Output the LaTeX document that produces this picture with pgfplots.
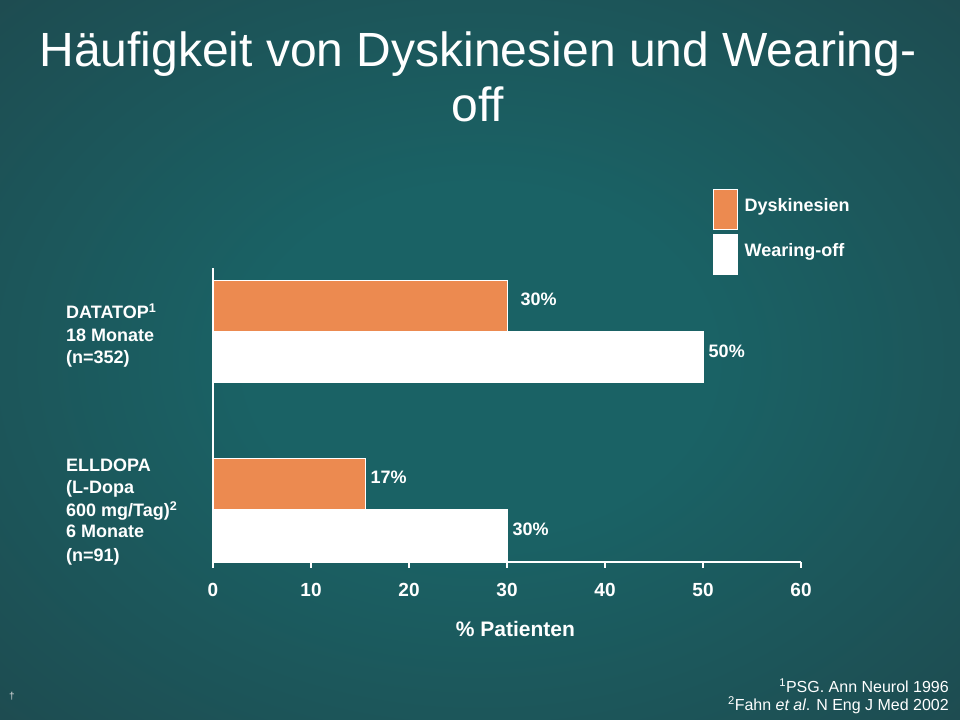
\documentclass[border=0pt]{standalone}
\usepackage{pgfplots}
\pgfplotsset{compat=1.18}
\usepackage{fontspec}
\setmainfont{Liberation Sans}
\definecolor{dysk}{RGB}{236,138,80}
\definecolor{bgc}{RGB}{26,98,101}
\definecolor{bgm}{RGB}{32,62,68}
\definecolor{bgo}{RGB}{38,50,56}
\pgfdeclareradialshading{slidebg}{\pgfpoint{0bp}{0bp}}{color(0bp)=(bgc); color(12bp)=(bgc); color(50bp)=(bgm); color(71bp)=(bgo)}
\newcommand{\lbl}{\fontsize{18bp}{22.5bp}\selectfont\bfseries}
\newcommand{\tlbl}{\fontsize{19bp}{22bp}\selectfont\bfseries}
\begin{document}
\begin{tikzpicture}[x=1bp,y=1bp]
\useasboundingbox (0,0) rectangle (960,720);
\shade[shading=slidebg] (0,0) rectangle (960,720);
% title
\node[text=white, font=\fontsize{48bp}{55bp}\selectfont, anchor=base, inner sep=0] at (478,653) {Häufigkeit von Dyskinesien und Wearing-};
\node[text=white, font=\fontsize{48bp}{55bp}\selectfont, anchor=base, inner sep=0] at (478,598) {off};
% category labels
\begin{scope}[every node/.style={text=white, font=\lbl, anchor=base west, inner sep=0}]
\node at (66,401) {DATATOP\textsuperscript{1}};
\node at (66,378) {18 Monate};
\node at (66,356) {(n=352)};
\node at (66,248) {ELLDOPA};
\node at (66,226.5) {(L-Dopa};
\node at (66,203) {600 mg/Tag)\textsuperscript{2}};
\node at (66,182) {6 Monate};
\node at (66,158) {(n=91)};
\node[anchor=base, font=\fontsize{21bp}{24bp}\selectfont\bfseries] at (515.5,83) {\% Patienten};
\end{scope}
% footnotes
\node[text=white, font=\fontsize{16bp}{17bp}\selectfont, anchor=base east, inner sep=0] at (949,27) {\textsuperscript{1}PSG. Ann Neurol 1996};
\node[text=white, font=\fontsize{16bp}{17bp}\selectfont, anchor=base east, inner sep=0] at (949,9.5) {\textsuperscript{2}Fahn \textit{et al}. N Eng J Med 2002};
\node[text=white!75!gray, font=\fontsize{10bp}{12bp}\selectfont, anchor=base, inner sep=0] at (12,20) {†};
\begin{axis}[
  at={(213bp,158bp)}, anchor=south west,
  scale only axis, width=588bp, height=294bp,
  xmin=0, xmax=60, ymin=-0.295, ymax=1.357,
  axis x line*=bottom, axis y line*=left,
  axis line style={white, line width=2.5bp, -},
  xtick={0,10,20,30,40,50,60}, ytick=\empty,
  xtick align=outside, major tick length=6bp,
  tick style={white, line width=2bp},
  xticklabel style={text=white, font=\tlbl, yshift=-12bp},
  /pgf/number format/assume math mode=true,
  clip=false,
  legend style={draw=none, fill=none, text=white, font=\lbl,
    at={(0.8503,1.2687)}, anchor=north west, inner sep=0pt, row sep=4bp,
    legend cell align=left},
  legend image code/.code={\draw[#1, line width=1bp] (0bp,-24bp) rectangle (24bp,16bp); \path[draw=none, fill=none] (0bp,0bp) -- (29bp,0bp);},
]
\addplot[xbar, bar width=0.2865, bar shift=0.143, fill=dysk, draw=white, line width=0.8bp,
  nodes near coords, point meta=explicit symbolic,
  nodes near coords style={text=white, font=\lbl, anchor=west, xshift=2bp, yshift=32bp}]
  coordinates {(30,1) [\hspace*{8bp}30\%] (15.5,0) [17\%]};
\addlegendentry{Dyskinesien}
\addplot[xbar, bar width=0.2865, bar shift=-0.143, fill=white, draw=white, line width=0.8bp,
  nodes near coords, point meta=explicit symbolic,
  nodes near coords style={text=white, font=\lbl, anchor=west, xshift=2bp, yshift=-20bp}]
  coordinates {(50,1) [50\%] (30,0) [30\%]};
\addlegendentry{Wearing-off}
\end{axis}
\end{tikzpicture}
\end{document}
